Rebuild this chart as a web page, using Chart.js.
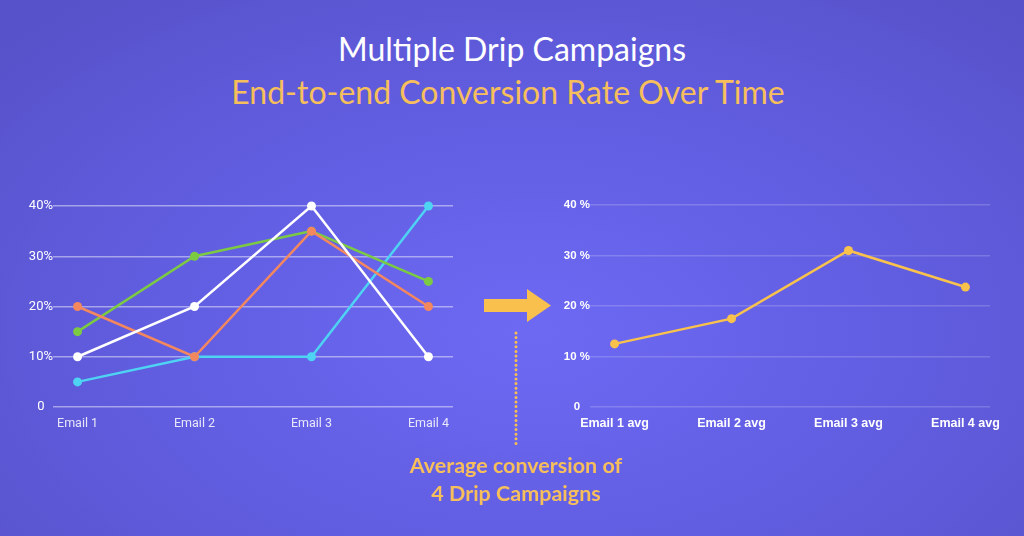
<!DOCTYPE html>
<html>
<head>
<meta charset="utf-8">
<script src="https://cdn.jsdelivr.net/npm/chart.js@4.4.0/dist/chart.umd.min.js"></script>
<style>
  html, body { margin: 0; padding: 0; }
  body {
    width: 1024px; height: 536px; overflow: hidden; position: relative;
    background: radial-gradient(ellipse 70% 80% at 52% 62%, #6d69f3 0%, #625ee2 50%, #5752c9 100%);
    font-family: Lato, "Open Sans", sans-serif;
  }
  .title { position: absolute; left: 0; width: 1024px; text-align: center; line-height: 1; }
  #t1 { top: 33px; font-size: 32px; color: #ffffff; }
  #t2 { top: 76px; left: -4px; font-size: 32px; color: #f7bf5c; }
  .box { position: absolute; width: 480px; height: 260px; top: 180px; }
  #leftBox { left: 0; }
  #rightBox { left: 540px; }
  #note { position: absolute; left: 316px; width: 400px; top: 451px; text-align: center;
          color: #f7bf5c; font-size: 21.5px; font-weight: bold; line-height: 28px; }
  svg { position: absolute; left: 0; top: 0; }
</style>
</head>
<body>
<div class="title" id="t1">Multiple Drip Campaigns</div>
<div class="title" id="t2">End-to-end Conversion Rate Over Time</div>

<div class="box" id="leftBox"><canvas id="leftChart" width="480" height="260"></canvas></div>
<div class="box" id="rightBox"><canvas id="rightChart" width="480" height="260"></canvas></div>

<svg width="1024" height="536">
  <polygon points="484,299 527,299 527,289 551,305.5 527,322 527,312 484,312" fill="#f9c04e"/>
  <line x1="516" y1="333" x2="516" y2="447" stroke="#f9c04e" stroke-width="3"
        stroke-linecap="round" stroke-dasharray="0 4.6"/>
</svg>

<div id="note">Average conversion of<br>4 Drip Campaigns</div>

<script>
// categories and values
const emails = ['Email 1', 'Email 2', 'Email 3', 'Email 4'];
const avgLabels = ['Email 1 avg', 'Email 2 avg', 'Email 3 avg', 'Email 4 avg'];
const yTicks = [0, 10, 20, 30, 40];

const whiteCampaign = [10, 20, 40, 10];
const orangeCampaign = [20, 10, 35, 20];
const greenCampaign = [15, 30, 35, 25];
const cyanCampaign = [5, 10, 10, 40];
const averageRate = [12.5, 17.5, 31, 23.75];

// turn a plain list into {x, y} points on a numeric x scale
function toPoints(values) {
    return values.map((v, i) => ({ x: i, y: v }));
}

function lineSet(values, color) {
    return {
        data: toPoints(values),
        borderColor: color,
        backgroundColor: color,
        borderWidth: 2.5,
        pointRadius: 4.5,
        pointBorderWidth: 0,
        tension: 0,
        clip: false
    };
}

function buildOptions(labels, opts) {
    return {
        responsive: false,
        animation: false,
        devicePixelRatio: 1,
        layout: { padding: { top: opts.top, right: opts.right, left: 0, bottom: 0 } },
        plugins: { legend: { display: false }, tooltip: { enabled: false } },
        scales: {
            x: {
                type: 'linear',
                min: -0.21,
                max: 3.21,
                afterBuildTicks: (scale) => { scale.ticks = labels.map((l, i) => ({ value: i })); },
                afterFit: (scale) => { scale.height = 33; },
                grid: { display: false },
                border: { display: false },
                ticks: {
                    padding: 1,
                    color: opts.xColor,
                    font: opts.xFont,
                    maxRotation: 0,
                    autoSkip: false,
                    callback: (v) => labels[v]
                }
            },
            y: {
                min: 0,
                max: 40,
                afterBuildTicks: (scale) => { scale.ticks = yTicks.map(v => ({ value: v })); },
                afterFit: (scale) => { scale.width = opts.yWidth; },
                grid: { color: opts.gridColor, lineWidth: 1.5, drawTicks: false },
                border: { display: false },
                ticks: {
                    padding: opts.yPad,
                    crossAlign: 'center',
                    color: '#ffffff',
                    font: opts.yFont,
                    callback: (v) => v === 0 ? '0' : v + opts.unit
                }
            }
        }
    };
}

new Chart(document.getElementById('leftChart'), {
    type: 'line',
    data: {
        datasets: [
            lineSet(whiteCampaign, '#ffffff'),
            lineSet(orangeCampaign, '#f3875e'),
            lineSet(greenCampaign, '#7cc943'),
            lineSet(cyanCampaign, '#4fd3f3')
        ]
    },
    options: buildOptions(emails, {
        top: 26, right: 27, yWidth: 53, yPad: 0,
        gridColor: 'rgba(255,255,255,0.45)',
        xColor: 'rgba(255,255,255,0.85)',
        xFont: { family: 'Roboto, "Liberation Sans", sans-serif', size: 12.5 },
        yFont: { family: 'Roboto, "Liberation Sans", sans-serif', size: 13 },
        unit: '%'
    })
});

new Chart(document.getElementById('rightChart'), {
    type: 'line',
    data: { datasets: [lineSet(averageRate, '#f8c24c')] },
    options: buildOptions(avgLabels, {
        top: 25, right: 30, yWidth: 50, yPad: 0,
        gridColor: 'rgba(255,255,255,0.18)',
        xColor: '#ffffff',
        xFont: { family: '"Liberation Sans", Arial, sans-serif', size: 12.5, weight: 'bold' },
        yFont: { family: '"Liberation Sans", Arial, sans-serif', size: 11.5, weight: 'bold' },
        unit: ' %'
    })
});
</script>
</body>
</html>
